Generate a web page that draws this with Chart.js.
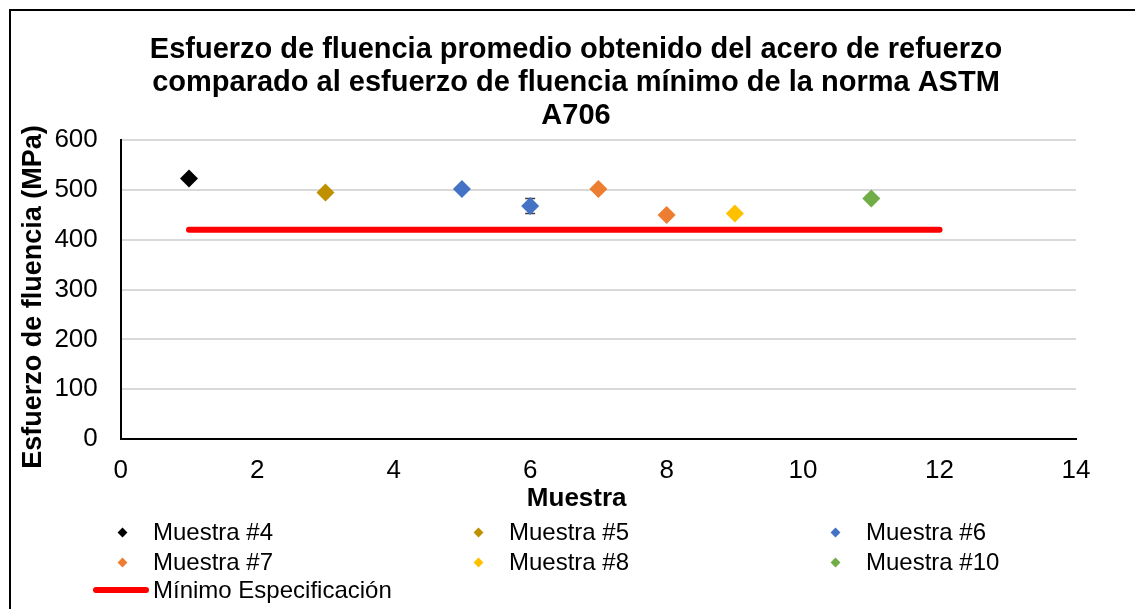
<!DOCTYPE html>
<html>
<head>
<meta charset="utf-8">
<script src="https://cdn.jsdelivr.net/npm/chart.js@4/dist/chart.umd.min.js"></script>
<style>
  body { margin: 0; background: #fff; font-family: "Liberation Sans", Arial, sans-serif; }
  #wrap { position: relative; width: 1135px; height: 609px; overflow: hidden; }
  #frame { position: absolute; left: 9px; top: 9px; width: 1200px; height: 700px;
           border-left: 2px solid #000; border-top: 2px solid #000; }
  canvas { position: absolute; left: 0; top: 0; }
  .leg { position: absolute; display: flex; align-items: center; font-size: 24px; color: #000; white-space: nowrap; }
  .leg .mk { width: 46px; height: 20px; display: flex; align-items: center; justify-content: center; }
  .leg .dia { width: 7px; height: 7px; transform: rotate(45deg); }
  .leg .ln { width: 56px; height: 6px; border-radius: 3px; background: #ff0000; margin-right: 4px; }
</style>
</head>
<body>
<div id="wrap">
  <div id="frame"></div>
  <canvas id="grafico" width="1135" height="609"></canvas>
  <div id="leyenda"></div>
</div>
<script>
// datos
const muestras = ['Muestra #4', 'Muestra #5', 'Muestra #6', 'Muestra #7', 'Muestra #8', 'Muestra #10'];
const colores = ['#000000', '#bf9000', '#4472c4', '#ed7d31', '#ffc000', '#70ad47'];
const xMuestra = [[1], [3], [5, 6], [7, 8], [9], [11]];
const esfuerzo = [[523], [495], [502, 468], [502, 450], [453], [483]];
const errores = [[0], [0], [0, 15], [0, 0], [0], [6]];

const minimoLabel = 'Mínimo Especificación';
const minimoX = [1, 12];
const minimoY = [420, 420];

const yTicks = [0, 100, 200, 300, 400, 500, 600];
const xTicks = [0, 2, 4, 6, 8, 10, 12, 14];

const titulo = ['Esfuerzo de fluencia promedio obtenido del acero de refuerzo',
                'comparado al esfuerzo de fluencia mínimo de la norma ASTM',
                'A706'];
// los espacios al final desplazan el texto centrado, como en el original
const tituloX = 'Muestra      ';
const tituloY = 'Esfuerzo de fluencia (MPa)  ';

const datasets = muestras.map((m, i) => ({
    label: m,
    type: 'scatter',
    data: xMuestra[i].map((x, j) => ({ x: x, y: esfuerzo[i][j] })),
    errores: errores[i],
    backgroundColor: colores[i],
    borderColor: colores[i],
    pointStyle: 'rectRot',
    pointRadius: 9,
    pointHoverRadius: 9,
    borderWidth: 0
}));

datasets.push({
    label: minimoLabel,
    type: 'line',
    data: minimoX.map((x, j) => ({ x: x, y: minimoY[j] })),
    borderColor: '#ff0000',
    backgroundColor: '#ff0000',
    borderWidth: 6,
    borderCapStyle: 'round',
    pointRadius: 0,
    fill: false
});

// barras de error (detras de los marcadores)
const errorBars = {
    id: 'errorBars',
    beforeDatasetsDraw(chart) {
        const ctx = chart.ctx;
        const ys = chart.scales.y;
        chart.data.datasets.forEach((ds, i) => {
            if (!ds.errores) return;
            const meta = chart.getDatasetMeta(i);
            meta.data.forEach((pt, j) => {
                const e = ds.errores[j];
                if (!e) return;
                const v = ds.data[j].y;
                const y1 = ys.getPixelForValue(v + e);
                const y2 = ys.getPixelForValue(v - e);
                ctx.save();
                ctx.strokeStyle = '#404040';
                ctx.lineWidth = 1.5;
                ctx.beginPath();
                ctx.moveTo(pt.x, y1); ctx.lineTo(pt.x, y2);
                ctx.moveTo(pt.x - 5, y1); ctx.lineTo(pt.x + 5, y1);
                ctx.moveTo(pt.x - 5, y2); ctx.lineTo(pt.x + 5, y2);
                ctx.stroke();
                ctx.restore();
            });
        });
    }
};

Chart.defaults.font.family = '"Liberation Sans", Arial, sans-serif';
Chart.defaults.color = '#000';

const chart = new Chart(document.getElementById('grafico').getContext('2d'), {
    type: 'scatter',
    data: { datasets: datasets },
    options: {
        responsive: false,
        animation: false,
        layout: { padding: { left: 17, right: 0, top: 33, bottom: 97 } },
        plugins: {
            legend: { display: false },
            tooltip: { enabled: false },
            title: {
                display: true,
                text: titulo,
                color: '#000',
                font: { size: 29, weight: 'bold', lineHeight: 1.14 },
                padding: { top: 0, bottom: 8 }
            }
        },
        scales: {
            x: {
                type: 'linear',
                min: xTicks[0],
                max: xTicks[xTicks.length - 1],
                afterBuildTicks: (s) => { s.ticks = xTicks.map(v => ({ value: v })); },
                grid: { display: false, drawTicks: false },
                border: { display: true, color: '#000', width: 2 },
                ticks: { font: { size: 26, lineHeight: 1 }, color: '#000', padding: 19 },
                title: { display: true, text: tituloX, font: { size: 26, weight: 'bold', lineHeight: 1 }, color: '#000', padding: { top: -17, bottom: 0 } }
            },
            y: {
                min: yTicks[0],
                max: yTicks[yTicks.length - 1],
                afterBuildTicks: (s) => { s.ticks = yTicks.map(v => ({ value: v })); },
                grid: { color: '#d9d9d9', lineWidth: 2, drawTicks: false },
                border: { display: true, color: '#000', width: 2 },
                ticks: { font: { size: 26 }, color: '#000', padding: 23 },
                title: { display: true, text: tituloY, font: { size: 27, weight: 'bold' }, color: '#000', padding: { top: 0, bottom: -18 } }
            },
            // eje vacio a la derecha, solo para dejar el margen derecho del original
            yDer: {
                position: 'right',
                display: true,
                grid: { display: false, drawTicks: false },
                border: { display: false },
                ticks: { display: false },
                afterFit: (s) => { s.width = 59; }
            }
        }
    },
    plugins: [errorBars]
});

// leyenda en html (3 columnas como en el original)
const leyenda = document.getElementById('leyenda');
const colX = [99, 455, 812];
const filaY = [518, 548];
muestras.forEach((m, i) => {
    const d = document.createElement('div');
    d.className = 'leg';
    d.style.left = colX[i % 3] + 'px';
    d.style.top = filaY[Math.floor(i / 3)] + 'px';
    d.innerHTML = '<span class="mk"><span class="dia" style="background:' + colores[i] + '"></span></span>' +
                  '<span style="margin-left:8px">' + m + '</span>';
    leyenda.appendChild(d);
});
const dl = document.createElement('div');
dl.className = 'leg';
dl.style.left = '93px';
dl.style.top = '576px';
dl.innerHTML = '<span class="ln"></span><span>' + minimoLabel + '</span>';
leyenda.appendChild(dl);
</script>
</body>
</html>
